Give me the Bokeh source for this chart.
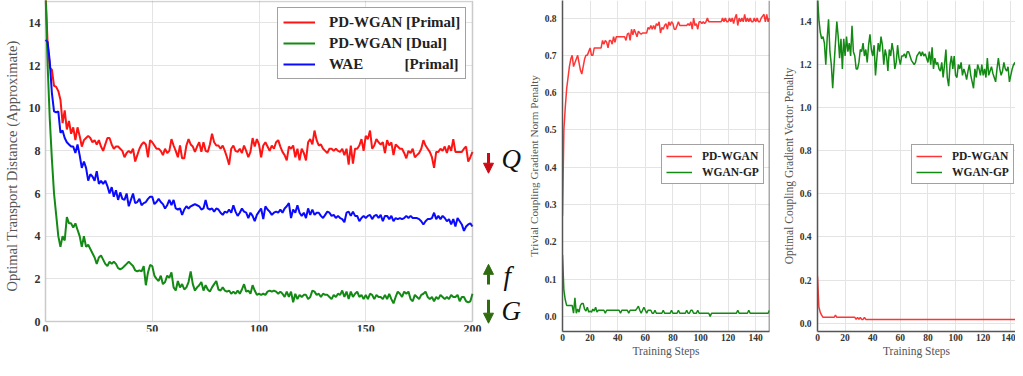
from bokeh.plotting import figure
from bokeh.layouts import row
from bokeh.models import (Range1d, FixedTicker, Span, Arrow, NormalHead, PrintfTickFormatter,
                          BoxAnnotation)
from bokeh.embed import file_html
from bokeh.resources import INLINE
from bokeh.core.properties import value

FONT = "Liberation Serif"

# ---------------- data: left panel (OT distance vs. epochs) ----------------
epochs = list(range(201))
pd_primal = [
    15.5, 13.0, 11.9, 11.8, 11.05, 11.0, 10.8, 10.4, 9.3, 9.9,
    9.0, 9.4, 8.8, 9.1, 8.5, 9.1, 8.7, 8.2, 8.5, 8.6,
    8.7, 8.6, 8.4, 8.5, 8.3, 8.5, 8.2, 8.0, 8.3, 8.6,
    8.6, 8.3, 8.1, 8.2, 8.2, 8.1, 8.0, 7.7, 7.9, 8.0,
    7.9, 8.1, 7.5, 7.8, 8.1, 8.3, 8.4, 8.3, 7.7, 8.5,
    8.4, 8.25, 8.1, 8.1, 8.0, 7.8, 8.1, 7.9, 8.0, 8.55,
    8.25, 8.0, 7.7, 8.25, 7.65, 7.65, 8.25, 8.55, 8.3, 8.2,
    7.95, 8.2, 8.4, 7.95, 8.4, 8.0, 7.95, 8.3, 8.8, 8.4,
    8.25, 8.25, 8.1, 8.25, 8.0, 7.7, 7.35, 8.1, 8.25, 8.0,
    7.95, 8.1, 7.9, 8.25, 8.0, 7.7, 7.95, 8.6, 8.2, 8.55,
    8.3, 7.7, 8.25, 8.4, 8.2, 8.0, 8.25, 8.1, 8.4, 8.5,
    8.2, 7.95, 7.8, 7.55, 8.2, 8.1, 8.25, 7.7, 8.1, 7.55,
    8.1, 7.9, 7.55, 8.4, 8.55, 8.3, 8.95, 8.5, 8.25, 8.3,
    8.1, 8.0, 7.9, 8.1, 8.1, 8.0, 8.1, 8.0, 7.95, 8.1,
    7.8, 8.1, 7.35, 8.25, 7.4, 8.1, 8.1, 8.25, 8.55, 8.0,
    8.7, 8.55, 8.95, 8.1, 8.25, 8.55, 8.4, 8.3, 8.4, 7.9,
    8.5, 8.25, 8.4, 7.8, 8.3, 8.2, 8.1, 8.1, 7.9, 7.65,
    8.0, 7.9, 8.1, 7.7, 7.8, 7.9, 8.1, 8.5, 8.25, 8.1,
    7.95, 7.7, 7.2, 7.95, 7.95, 8.1, 8.0, 8.2, 7.9, 8.25,
    8.0, 8.55, 7.95, 7.95, 7.95, 7.95, 8.1, 8.2, 7.5, 7.7,
    7.95,
]
pd_dual = [
    15.5, 12.0, 9.5, 7.6, 6.0, 5.0, 4.0, 3.5, 4.0, 3.8,
    4.9, 4.6, 4.6, 4.4, 4.6, 4.3, 4.0, 3.5, 4.0, 3.5,
    3.6, 3.4, 3.2, 3.0, 2.7, 3.0, 3.1, 2.9, 2.7, 2.6,
    2.8, 2.7, 2.8, 2.7, 2.5, 2.45, 2.5, 2.6, 2.7, 2.8,
    2.7, 2.6, 2.4, 2.35, 2.4, 2.35, 2.6, 1.7, 2.3, 2.65,
    2.6, 2.15, 2.0, 1.9, 2.15, 1.75, 1.85, 2.15, 2.05, 2.3,
    1.6, 1.45, 1.9, 1.6, 1.75, 1.5, 1.6, 1.85, 2.35, 1.75,
    1.45, 1.6, 1.7, 1.85, 1.45, 1.7, 1.5, 1.4, 1.6, 1.75,
    1.9, 1.5, 1.45, 1.6, 1.45, 1.4, 1.45, 1.3, 1.4, 1.3,
    1.45, 1.3, 1.5, 1.75, 1.4, 1.45, 1.3, 1.7, 1.45, 1.25,
    1.3, 1.25, 1.3, 1.25, 1.4, 1.45, 1.4, 1.45, 1.4, 1.3,
    1.4, 1.3, 1.15, 1.4, 1.15, 1.4, 0.9, 1.3, 1.05, 1.25,
    1.15, 1.25, 1.25, 1.05, 1.15, 1.45, 1.4, 1.25, 1.3, 1.15,
    1.3, 1.25, 1.25, 1.15, 1.05, 1.25, 1.15, 1.3, 1.25, 1.45,
    1.15, 1.4, 1.05, 1.4, 1.15, 1.3, 1.4, 1.15, 1.25, 1.05,
    1.25, 1.05, 1.3, 1.25, 1.05, 1.25, 1.15, 1.15, 1.05, 1.25,
    1.05, 1.3, 1.05, 0.85, 1.15, 1.4, 1.3, 1.15, 1.4, 1.3,
    1.4, 1.05, 0.95, 1.25, 1.15, 1.05, 1.25, 1.3, 1.4, 1.15,
    1.05, 1.15, 0.95, 1.15, 1.05, 1.25, 1.15, 1.05, 1.15, 1.05,
    1.25, 1.15, 1.15, 1.25, 0.95, 1.15, 1.15, 0.95, 0.9, 0.95,
    1.3,
]
wae_primal = [
    13.2, 13.1, 12.2, 10.7, 9.85, 9.8, 9.85, 8.85, 8.95, 8.6,
    8.4, 8.3, 8.2, 8.2, 7.9, 8.3, 7.8, 7.2, 7.5, 7.2,
    6.6, 6.9, 6.8, 6.6, 7.05, 6.45, 6.6, 6.45, 6.6, 6.35,
    6.0, 6.3, 5.85, 6.15, 5.7, 6.05, 5.75, 5.7, 6.0, 5.4,
    5.7, 6.0, 5.55, 5.6, 5.75, 5.45, 5.55, 5.6, 5.75, 5.85,
    5.85, 5.5, 5.6, 5.75, 5.6, 5.5, 5.3, 5.45, 5.7, 5.45,
    5.7, 5.3, 5.25, 5.3, 5.0, 5.25, 5.4, 5.3, 5.4, 5.45,
    5.5, 5.45, 5.4, 5.25, 5.3, 5.7, 5.3, 5.25, 5.3, 5.15,
    5.3, 5.25, 5.1, 5.0, 5.15, 5.1, 5.25, 5.1, 5.45, 5.15,
    4.95, 5.1, 5.3, 5.15, 5.1, 4.85, 5.1, 4.95, 4.7, 5.0,
    5.15, 5.3, 4.8, 5.4, 5.25, 5.15, 5.0, 5.1, 5.15, 5.1,
    5.25, 5.1, 5.3, 5.4, 5.55, 4.85, 5.25, 5.1, 5.45, 5.1,
    4.95, 5.1, 4.85, 5.3, 5.0, 5.25, 5.0, 5.1, 5.1, 4.95,
    4.85, 5.0, 5.15, 5.1, 4.95, 5.0, 4.85, 4.95, 4.85, 4.8,
    4.65, 5.1, 5.15, 4.95, 5.15, 4.95, 4.95, 4.7, 4.85, 4.95,
    4.85, 4.95, 5.0, 4.8, 4.95, 5.0, 4.85, 5.0, 4.7, 4.95,
    4.95, 4.8, 4.95, 4.7, 4.85, 4.8, 4.85, 4.8, 4.85, 4.95,
    4.85, 4.95, 4.85, 4.85, 4.85, 4.8, 4.7, 4.55, 4.7, 4.8,
    4.8, 4.85, 5.1, 4.8, 4.95, 4.8, 4.95, 4.85, 4.7, 4.8,
    4.55, 4.8, 4.45, 4.85, 4.7, 4.55, 4.25, 4.45, 4.55, 4.6,
    4.45,
]
left_x_ticks = [0, 50, 100, 150, 200]
left_y_ticks = [0, 2, 4, 6, 8, 10, 12, 14]

# ---------------- data: middle panel (trivial coupling gradient norm penalty) ----------------
steps = list(range(151))
norm_pdwgan = [
    0.27, 0.50, 0.56, 0.61, 0.64, 0.67, 0.69, 0.70, 0.67, 0.68,
    0.69, 0.70, 0.68, 0.66, 0.65, 0.67, 0.69, 0.70, 0.70, 0.71,
    0.72, 0.70, 0.70, 0.72, 0.72, 0.72, 0.72, 0.72, 0.72, 0.74,
    0.73, 0.74, 0.735, 0.72, 0.74, 0.74, 0.73, 0.75, 0.735, 0.75,
    0.75, 0.75, 0.75, 0.75, 0.75, 0.75, 0.74, 0.757, 0.76, 0.74,
    0.77, 0.755, 0.77, 0.76, 0.75, 0.765, 0.76, 0.757, 0.76, 0.76,
    0.76, 0.76, 0.775, 0.77, 0.78, 0.77, 0.78, 0.77, 0.785, 0.78,
    0.79, 0.76, 0.775, 0.77, 0.78, 0.785, 0.77, 0.79, 0.78, 0.79,
    0.785, 0.77, 0.77, 0.78, 0.79, 0.78, 0.78, 0.78, 0.78, 0.78,
    0.78, 0.785, 0.78, 0.79, 0.77, 0.80, 0.78, 0.785, 0.77, 0.79,
    0.79, 0.785, 0.79, 0.785, 0.79, 0.80, 0.79, 0.79, 0.79, 0.79,
    0.79, 0.79, 0.79, 0.79, 0.79, 0.79, 0.80, 0.79, 0.80, 0.79,
    0.79, 0.80, 0.79, 0.80, 0.785, 0.80, 0.81, 0.78, 0.80, 0.79,
    0.80, 0.79, 0.81, 0.79, 0.80, 0.79, 0.80, 0.79, 0.79, 0.80,
    0.79, 0.80, 0.79, 0.79, 0.80, 0.805, 0.81, 0.79, 0.81, 0.79,
    0.80,
]
norm_wgangp = [
    0.165, 0.07, 0.045, 0.03, 0.03, 0.03, 0.03, 0.03, 0.009, 0.05,
    0.009, 0.02, 0.012, 0.03, 0.035, 0.035, 0.02, 0.015, 0.025, 0.012,
    0.015, 0.012, 0.02, 0.015, 0.025, 0.012, 0.017, 0.017, 0.017, 0.017,
    0.017, 0.009, 0.017, 0.017, 0.017, 0.017, 0.017, 0.017, 0.017, 0.017,
    0.017, 0.017, 0.009, 0.017, 0.017, 0.017, 0.017, 0.017, 0.009, 0.017,
    0.017, 0.017, 0.017, 0.017, 0.022, 0.028, 0.017, 0.009, 0.017, 0.025,
    0.017, 0.009, 0.017, 0.017, 0.017, 0.009, 0.009, 0.017, 0.009, 0.009,
    0.009, 0.009, 0.009, 0.017, 0.009, 0.009, 0.009, 0.009, 0.009, 0.017,
    0.009, 0.009, 0.009, 0.009, 0.017, 0.009, 0.009, 0.009, 0.009, 0.009,
    0.017, 0.009, 0.009, 0.017, 0.017, 0.009, 0.009, 0.009, 0.017, 0.009,
    0.009, 0.009, 0.009, 0.009, 0.009, 0.009, 0.009, 0.0, 0.009, 0.009,
    0.009, 0.009, 0.009, 0.009, 0.009, 0.009, 0.009, 0.009, 0.009, 0.009,
    0.009, 0.009, 0.009, 0.009, 0.009, 0.009, 0.009, 0.017, 0.009, 0.009,
    0.009, 0.009, 0.009, 0.009, 0.009, 0.017, 0.009, 0.009, 0.009, 0.009,
    0.009, 0.009, 0.009, 0.009, 0.009, 0.009, 0.009, 0.009, 0.009, 0.009,
    0.017,
]
mid_x_ticks = [0, 20, 40, 60, 80, 100, 120, 140]
mid_y_ticks = [0.0, 0.1, 0.2, 0.3, 0.4, 0.5, 0.6, 0.7, 0.8]

# ---------------- data: right panel (optimal coupling gradient vector penalty) ----------------
vec_pdwgan = [
    0.217, 0.075, 0.05, 0.037, 0.027, 0.027, 0.027, 0.027, 0.027, 0.027,
    0.027, 0.027, 0.027, 0.037, 0.027, 0.027, 0.027, 0.027, 0.027, 0.027,
    0.027, 0.027, 0.027, 0.027, 0.027, 0.027, 0.027, 0.027, 0.017, 0.027,
    0.017, 0.027, 0.017, 0.017, 0.027, 0.017, 0.017, 0.017, 0.017, 0.017,
    0.017, 0.017, 0.017, 0.017, 0.017, 0.017, 0.017, 0.017, 0.017, 0.017,
    0.017, 0.017, 0.017, 0.017, 0.017, 0.017, 0.017, 0.017, 0.017, 0.017,
    0.017, 0.017, 0.017, 0.017, 0.017, 0.017, 0.017, 0.017, 0.017, 0.017,
    0.017, 0.017, 0.017, 0.017, 0.017, 0.017, 0.017, 0.017, 0.017, 0.017,
    0.017, 0.017, 0.017, 0.017, 0.017, 0.017, 0.017, 0.017, 0.017, 0.017,
    0.017, 0.017, 0.017, 0.017, 0.017, 0.017, 0.017, 0.017, 0.017, 0.017,
    0.017, 0.017, 0.017, 0.017, 0.017, 0.017, 0.017, 0.017, 0.017, 0.017,
    0.017, 0.017, 0.017, 0.017, 0.017, 0.017, 0.017, 0.017, 0.017, 0.017,
    0.017, 0.017, 0.017, 0.017, 0.017, 0.017, 0.017, 0.017, 0.017, 0.017,
    0.017, 0.017, 0.017, 0.017, 0.017, 0.017, 0.017, 0.017, 0.017, 0.017,
    0.017, 0.017, 0.017, 0.017, 0.017, 0.027, 0.017, 0.017, 0.017, 0.017,
    0.017,
]
vec_wgangp = [
    1.52, 1.41, 1.35, 1.32, 1.33, 1.30, 1.20, 1.32, 1.41, 1.26,
    1.20, 1.09, 1.20, 1.30, 1.40, 1.33, 1.23, 1.32, 1.18, 1.32,
    1.24, 1.33, 1.26, 1.30, 1.24, 1.38, 1.26, 1.24, 1.18, 1.18,
    1.21, 1.27, 1.26, 1.30, 1.24, 1.27, 1.21, 1.29, 1.34, 1.27,
    1.24, 1.29, 1.15, 1.23, 1.30, 1.26, 1.33, 1.29, 1.20, 1.27,
    1.24, 1.17, 1.27, 1.24, 1.30, 1.26, 1.18, 1.21, 1.29, 1.23,
    1.20, 1.24, 1.24, 1.25, 1.23, 1.26, 1.26, 1.24, 1.22, 1.21,
    1.20, 1.21, 1.24, 1.25, 1.26, 1.24, 1.26, 1.24, 1.25, 1.23,
    1.21, 1.26, 1.20, 1.28, 1.18, 1.23, 1.20, 1.21, 1.18, 1.17,
    1.21, 1.14, 1.20, 1.27, 1.14, 1.10, 1.20, 1.24, 1.18, 1.24,
    1.15, 1.14, 1.20, 1.18, 1.21, 1.15, 1.18, 1.16, 1.13, 1.17,
    1.20, 1.15, 1.12, 1.09, 1.18, 1.14, 1.20, 1.18, 1.15, 1.20,
    1.15, 1.18, 1.14, 1.23, 1.15, 1.17, 1.19, 1.16, 1.14, 1.12,
    1.18, 1.23, 1.18, 1.15, 1.17, 1.21, 1.18, 1.17, 1.19, 1.12,
    1.15, 1.18, 1.20, 1.21, 1.18, 1.20, 1.18, 1.19, 1.21, 1.22,
    1.22,
]
right_x_ticks = [0, 20, 40, 60, 80, 100, 120, 140]
right_y_ticks = [0.0, 0.2, 0.4, 0.6, 0.8, 1.0, 1.2, 1.4]

# ---------------- styling ----------------
RED = "#ff1414"
RED2 = "#ff3535"
GREEN = "#138a13"
BLUE = "#0a0aff"
GRID = "#e4e4e4"
AXIS_TXT = "#555555"
TICK_TXT = "#333333"
H = 360
TOP = 0          # common top border (frames are aligned across the row)
BOTTOM = 29      # common bottom border
W1 = 482         # left figure width
BOX_L, BOX_R = 45, 472        # left panel box, screen px
BOX_T, BOX_B = 1, 321


def style_axes(p, tick_size, xlab_size, ylab_size):
    p.background_fill_color = "white"
    p.border_fill_color = "white"
    for ax in list(p.xaxis) + list(p.yaxis):
        ax.major_label_text_font = FONT
        ax.major_label_text_font_style = "bold"
        ax.major_label_text_color = TICK_TXT
        ax.major_label_text_font_size = tick_size
        ax.axis_label_text_font = FONT
        ax.axis_label_text_font_style = "normal"
        ax.axis_label_text_color = AXIS_TXT
        ax.major_tick_out = 0
        ax.major_tick_in = 0
        ax.minor_tick_out = 0
        ax.minor_tick_in = 0
    p.xaxis.axis_label_text_font_size = xlab_size
    p.yaxis.axis_label_text_font_size = ylab_size
    p.xgrid.grid_line_color = GRID
    p.ygrid.grid_line_color = GRID
    p.xgrid.grid_line_width = 1
    p.ygrid.grid_line_width = 1


# ---------------- left panel (frame covers the whole figure; axes fixed at 0) ----------------
frame_h = H - TOP - BOTTOM
ppu_y = (BOX_B - BOX_T) / 15.0
ppu_x = (BOX_R - BOX_L) / 200.0
left_y = Range1d(-(frame_h - BOX_B) / ppu_y, 15 + BOX_T / ppu_y)
left_x = Range1d(-BOX_L / ppu_x, 200 + (W1 - BOX_R) / ppu_x)
p1 = figure(width=W1, height=H, x_range=left_x, y_range=left_y,
            output_backend="svg", toolbar_location=None,
            min_border_left=0, min_border_right=0,
            min_border_top=TOP, min_border_bottom=BOTTOM)
# white masks outside the data box (hide grid lines there)
for kw in (dict(top=0), dict(right=0), dict(left=200)):
    p1.add_layout(BoxAnnotation(fill_color="white", fill_alpha=1.0,
                                line_color=None, level="underlay", **kw))
p1.line(epochs, pd_primal, line_color=RED, line_width=2, legend_label="PD-WGAN [Primal]")
p1.line(epochs, pd_dual, line_color=GREEN, line_width=2, legend_label="PD-WGAN [Dual]")
p1.line(epochs, wae_primal, line_color=BLUE, line_width=2,
        legend_label="WAE" + "\u00a0" * 11 + "[Primal]")
p1.add_layout(BoxAnnotation(left=0, right=200, bottom=0, top=15, fill_alpha=0,
                            line_color="#6e6e6e", line_width=1.6))
style_axes(p1, "12px", "15px", "14.5px")
p1.xaxis.ticker = FixedTicker(ticks=left_x_ticks)
p1.yaxis.ticker = FixedTicker(ticks=left_y_ticks)
p1.xaxis.fixed_location = 0
p1.yaxis.fixed_location = 0
p1.xaxis.axis_label = "Training Epochs"
p1.yaxis.axis_label = "Optimal Transport Distance (Approximate)"
p1.xaxis.major_label_standoff = 3
p1.xaxis.axis_label_standoff = 1
p1.yaxis.major_label_standoff = 5
p1.yaxis.axis_label_standoff = 6
p1.xaxis.axis_line_color = None
p1.yaxis.axis_line_color = None
p1.outline_line_color = None
lg = p1.legend[0]
lg.location = (277, 252)
lg.margin = 0
lg.padding = 5
lg.spacing = 3
lg.glyph_width = 32
lg.glyph_height = 18
lg.label_height = 18
lg.label_standoff = 14
lg.label_text_font = FONT
lg.label_text_font_style = "bold"
lg.label_text_font_size = "15px"
lg.label_text_color = "#222222"
lg.border_line_color = "#444444"
lg.border_line_width = 1.3
lg.background_fill_color = "white"
lg.background_fill_alpha = 1.0

# ---------------- gap with arrows and symbols ----------------
GAP_W = 40
gap = figure(width=GAP_W, height=H, output_backend="svg", toolbar_location=None,
             x_range=Range1d(0, GAP_W), y_range=left_y,
             x_axis_type=None, y_axis_type=None,
             min_border_left=0, min_border_right=0, min_border_top=TOP,
             min_border_bottom=BOTTOM)
gap.outline_line_color = None
gap.background_fill_color = "white"
gap.border_fill_color = "white"
ARW_RED = "#cc0a14"
ARW_GRN = "#2f6b0f"
for (y0, y1, c) in [(7.9, 6.95, ARW_RED), (1.74, 2.68, ARW_GRN), (1.02, -0.08, ARW_GRN)]:
    gap.add_layout(Arrow(end=NormalHead(size=10, fill_color=c, line_color=c, line_width=1),
                         x_start=6, y_start=y0, x_end=6, y_end=y1,
                         line_color=c, line_width=3))
gap.text(x=[19, 21, 19], y=[7.6, 2.15, 0.47], text=["Q", "f", "G"],
         text_font=value(FONT), text_font_style="italic", text_font_size="27px",
         text_color="#111111", text_align="left", text_baseline="middle")

# ---------------- middle panel ----------------
p2 = figure(width=255, height=H, x_range=Range1d(0, 150), y_range=Range1d(-0.04, 0.847),
            output_backend="svg", toolbar_location=None,
            min_border_left=40, min_border_right=8, min_border_top=TOP,
            min_border_bottom=BOTTOM)
p2.line(steps, norm_pdwgan, line_color=RED2, line_width=1.5, legend_label="PD-WGAN")
p2.line(steps, norm_wgangp, line_color=GREEN, line_width=1.5, legend_label="WGAN-GP")
style_axes(p2, "9.5px", "11.5px", "11.2px")
p2.xaxis.ticker = FixedTicker(ticks=mid_x_ticks)
p2.yaxis.ticker = FixedTicker(ticks=mid_y_ticks)
p2.yaxis.formatter = PrintfTickFormatter(format="%.1f")
p2.xaxis.axis_label = "Training Steps"
p2.yaxis.axis_label = "Trivial Coupling Gradient Norm Penalty"

# ---------------- right panel ----------------
p3 = figure(width=238, height=H, x_range=Range1d(0, 143.4), y_range=Range1d(-0.039, 1.4975),
            output_backend="svg", toolbar_location=None,
            min_border_left=40, min_border_right=0, min_border_top=TOP,
            min_border_bottom=BOTTOM)
p3.line(steps, vec_pdwgan, line_color=RED2, line_width=1.5, legend_label="PD-WGAN")
p3.line(steps, vec_wgangp, line_color=GREEN, line_width=1.5, legend_label="WGAN-GP")
style_axes(p3, "9.5px", "11.5px", "11.5px")
p3.xaxis.ticker = FixedTicker(ticks=right_x_ticks)
p3.yaxis.ticker = FixedTicker(ticks=right_y_ticks)
p3.yaxis.formatter = PrintfTickFormatter(format="%.1f")
p3.xaxis.axis_label = "Training Steps"
p3.yaxis.axis_label = "Optimal Coupling Gradient Vector Penalty"

for p, lx in ((p2, 99), (p3, 94)):
    p.outline_line_color = None
    for ax in list(p.xaxis) + list(p.yaxis):
        ax.axis_line_color = "#555555"
        ax.axis_line_width = 1.5
    p.xaxis.major_label_standoff = 2
    p.xaxis.axis_label_standoff = 1
    p.yaxis.major_label_standoff = 6
    p.yaxis.axis_label_standoff = 2
    lg = p.legend[0]
    lg.location = (lx, 147)
    lg.margin = 0
    lg.padding = 4
    lg.spacing = 2
    lg.glyph_width = 26
    lg.glyph_height = 14
    lg.label_height = 14
    lg.label_standoff = 10
    lg.label_text_font = FONT
    lg.label_text_font_style = "bold"
    lg.label_text_font_size = "11.5px"
    lg.label_text_color = "#222222"
    lg.border_line_color = "#444444"
    lg.border_line_width = 1.2
    lg.background_fill_color = "white"
    lg.background_fill_alpha = 1.0

p2.add_layout(Span(location=150, dimension="height", line_color="#555555", line_width=1.5))

layout = row(p1, gap, p2, p3, spacing=0)

with open("out.html", "w") as f:
    f.write(file_html(layout, INLINE))
